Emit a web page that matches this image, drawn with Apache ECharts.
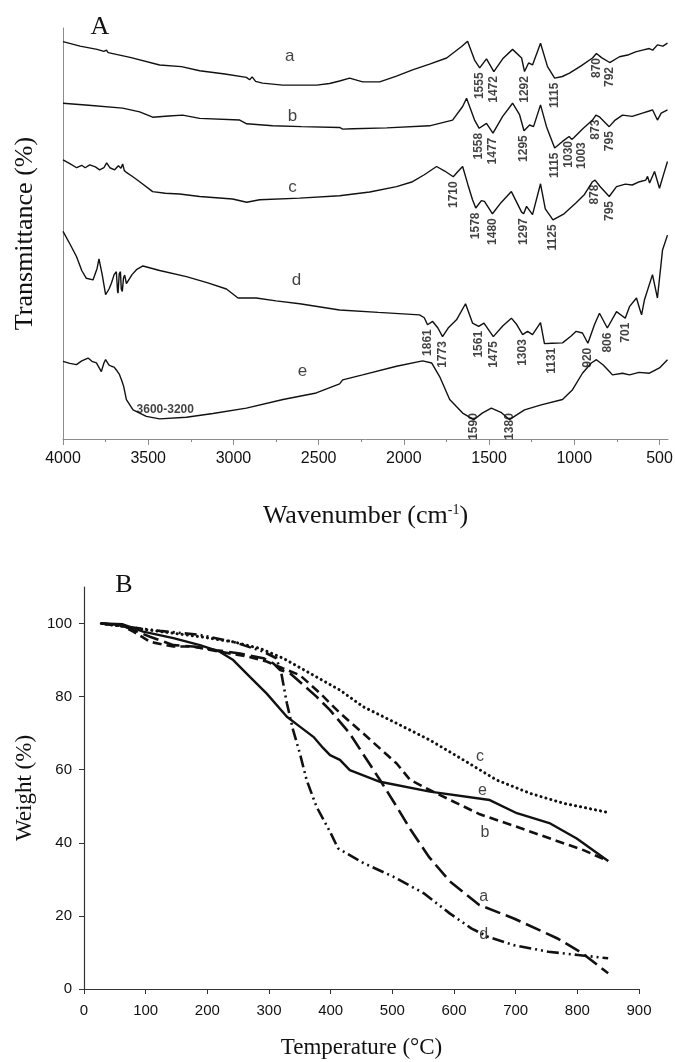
<!DOCTYPE html>
<html>
<head>
<meta charset="utf-8">
<script src="https://cdn.jsdelivr.net/npm/echarts@6/dist/echarts.min.js"></script>
<style>
  html, body { margin: 0; padding: 0; background: #fff; }
  #chart { width: 675px; height: 1062px; }
</style>
</head>
<body>
<div id="chart"></div>
<script>
// ---------- Panel A: FTIR spectra, [wavenumber (cm-1), transmittance (offset, arb. %)] ----------
const specA = [[4000,96.7],[3900,95.6],[3800,94.8],[3760,94.3],[3745,94.6],[3735,94.0],[3600,92.8],[3433,91.0],[3305,90.6],[3198,89.6],[3050,88.8],[2924,88.0],[2905,87.4],[2890,88.1],[2870,87.0],[2829,86.6],[2711,86.1],[2512,86.1],[2436,86.5],[2377,87.1],[2318,87.8],[2242,86.9],[2142,86.9],[2043,88.3],[1949,89.8],[1849,91.2],[1749,92.7],[1661,95.5],[1626,96.8],[1585,92.2],[1555,90.3],[1515,92.5],[1472,89.4],[1420,92.5],[1362,94.8],[1309,92.7],[1292,89.4],[1268,91.5],[1245,91.0],[1198,96.3],[1157,90.6],[1115,87.8],[1070,88.2],[1028,89.0],[960,90.8],[893,92.7],[870,93.8],[840,92.8],[792,91.6],[735,93.0],[680,93.5],[640,94.2],[600,94.6],[560,95.0],[540,94.6],[512,95.9],[480,95.6],[453,96.3]];
const specB = [[4000,81.7],[3850,81.2],[3650,80.5],[3550,79.6],[3474,78.3],[3380,78.6],[3298,78.8],[3198,78.0],[2963,77.6],[2922,76.7],[2770,76.2],[2600,76.0],[2377,75.8],[2359,75.4],[2300,75.5],[2100,75.7],[1849,76.2],[1714,77.6],[1655,80.9],[1632,82.9],[1585,77.6],[1558,75.6],[1515,76.8],[1477,74.4],[1420,78.5],[1362,81.7],[1321,78.9],[1295,75.0],[1262,76.4],[1239,76.0],[1198,81.3],[1163,76.0],[1115,70.8],[1069,72.4],[1030,73.6],[1015,72.9],[1003,73.3],[950,75.5],[893,77.6],[873,78.8],[850,78.3],[795,76.0],[760,77.6],[717,78.8],[660,78.5],[600,79.3],[560,79.8],[541,80.1],[512,77.6],[490,79.3],[453,80.1]];
const specC = [[4000,67.9],[3960,67.0],[3920,66.0],[3890,66.6],[3870,66.0],[3843,66.7],[3810,66.2],[3785,65.5],[3760,66.0],[3744,67.2],[3725,66.0],[3697,65.5],[3675,66.5],[3660,65.9],[3650,66.9],[3640,65.3],[3626,64.8],[3590,63.8],[3550,62.6],[3474,60.2],[3400,59.8],[3316,59.6],[3198,59.0],[3005,58.4],[2922,57.6],[2846,58.2],[2611,58.6],[2377,59.2],[2200,60.1],[2043,61.4],[1949,62.6],[1880,64.3],[1808,66.3],[1760,65.2],[1710,63.8],[1680,65.2],[1655,66.3],[1625,62.0],[1597,58.2],[1578,56.2],[1545,58.0],[1527,57.8],[1480,54.8],[1430,57.5],[1369,60.2],[1309,55.2],[1297,54.8],[1280,56.6],[1245,54.6],[1198,62.1],[1170,56.0],[1125,53.3],[1060,54.8],[989,57.5],[940,59.5],[893,62.6],[878,63.0],[850,61.5],[795,59.0],[752,61.4],[700,62.0],[660,61.8],[617,62.6],[580,63.0],[570,63.9],[558,62.3],[529,65.1],[500,61.0],[475,64.5],[453,67.5]];
const specD = [[4000,50.5],[3960,47.5],[3921,44.4],[3890,41.0],[3863,39.1],[3824,38.7],[3800,41.5],[3789,43.8],[3770,40.0],[3750,35.1],[3730,36.5],[3716,37.9],[3700,40.0],[3687,40.7],[3680,36.0],[3677,35.5],[3670,40.2],[3663,40.7],[3658,36.5],[3652,35.9],[3645,39.2],[3638,39.9],[3628,37.8],[3619,37.5],[3595,40.0],[3569,41.2],[3531,42.1],[3433,41.0],[3276,39.5],[3150,38.0],[3041,36.5],[2973,34.3],[2866,34.3],[2750,33.6],[2611,32.9],[2377,31.4],[2150,30.8],[1908,30.2],[1880,29.5],[1861,27.8],[1831,28.6],[1800,27.0],[1773,24.9],[1740,27.0],[1691,29.0],[1638,32.9],[1597,28.2],[1561,27.4],[1530,28.2],[1475,24.9],[1420,27.5],[1369,29.4],[1340,28.0],[1303,25.4],[1274,26.2],[1245,25.4],[1198,28.3],[1175,23.2],[1131,23.3],[1069,23.4],[1020,25.0],[989,26.2],[952,25.8],[920,23.3],[880,28.0],[852,30.6],[806,27.0],[752,31.0],[720,30.0],[701,29.4],[676,32.2],[635,34.3],[615,31.5],[605,30.2],[588,33.9],[541,40.0],[512,34.3],[482,46.0],[453,49.6]];
const specE = [[4000,18.9],[3960,18.4],[3921,18.1],[3890,19.0],[3853,19.7],[3830,18.9],[3804,18.5],[3790,17.5],[3775,16.4],[3760,18.5],[3750,19.3],[3730,18.0],[3716,17.7],[3700,17.5],[3687,16.8],[3670,15.8],[3657,14.4],[3644,12.8],[3628,9.6],[3589,7.1],[3511,5.5],[3433,4.9],[3276,5.3],[3120,6.2],[2924,7.5],[2709,9.6],[2514,11.2],[2377,13.4],[2359,14.4],[2242,15.6],[2043,17.7],[1890,19.0],[1837,18.5],[1790,15.2],[1731,9.6],[1655,6.3],[1590,4.7],[1540,6.3],[1487,7.5],[1430,6.5],[1380,4.7],[1340,5.8],[1292,7.1],[1194,8.3],[1069,9.6],[1010,12.0],[952,16.0],[900,18.5],[870,19.3],[830,18.0],[794,16.4],[776,15.6],[717,16.0],[676,15.6],[620,16.2],[559,16.0],[500,17.3],[453,19.3]];

// band assignments written under each spectrum
const peaksA = [1555, 1472, 1292, 1115, 870, 792];
const peaksB = [1558, 1477, 1295, 1115, 1030, 1003, 873, 795];
const peaksC = [1710, 1578, 1480, 1297, 1125, 878, 795];
const peaksD = [1861, 1773, 1561, 1475, 1303, 1131, 920, 806, 701];
const peaksE = [1590, 1380];
const bandE = { from: 3600, to: 3200 };

// curve names [name, wavenumber, transmittance]
const tagsA = [['a', 2670, 93.0], ['b', 2653, 78.4], ['c', 2653, 61.3], ['d', 2630, 38.7], ['e', 2595, 16.4]];

const wnTicks = [4000, 3500, 3000, 2500, 2000, 1500, 1000, 500];
const wnMinor = [3750, 3250, 2750, 2250, 1750, 1250, 750];

// ---------- Panel B: TGA, [temperature (°C), weight (%)] ----------
const tgaA = [[28,100],[60,99.6],[80,98.2],[107,96.4],[145,94.1],[177,93.7],[215,92.7],[253,91.8],[291,90.5],[307,89.1],[318,87.3],[334,86.4],[377,80.0],[399,76.3],[431,69.9],[480,57.2],[507,49.9],[530,43.5],[560,36.0],[593,29.5],[641,23.0],[697,19.3],[767,13.9],[808,9.8],[850,4.3]];
const tgaB = [[28,100],[60,99.5],[80,97.8],[107,95.0],[145,93.7],[177,93.7],[220,92.3],[264,91.0],[296,89.6],[323,87.7],[350,85.9],[383,80.9],[415,75.5],[453,69.9],[507,61.7],[529,57.2],[572,53.5],[642,47.8],[700,44.5],[767,40.5],[810,38.0],[850,35.0]];
const tgaC = [[28,100],[107,98.2],[188,96.4],[242,95.0],[285,93.2],[323,90.5],[377,85.4],[415,81.8],[453,77.2],[507,72.7],[561,68.1],[615,62.7],[669,57.2],[724,53.5],[778,50.8],[853,48.2]];
const tgaD = [[28,100],[123,98.0],[188,96.9],[242,95.0],[291,92.3],[312,90.5],[320,86.4],[329,78.2],[339,70.9],[350,64.5],[361,57.2],[377,49.9],[399,43.0],[412,38.5],[454,34.4],[502,30.7],[551,26.2],[593,20.7],[628,16.6],[655,14.3],[697,12.0],[753,10.2],[801,9.3],[850,8.4]];
const tgaE = [[28,100],[63,99.8],[96,97.8],[145,96.0],[188,94.1],[220,92.3],[242,90.0],[269,85.4],[296,80.9],[329,74.5],[350,71.8],[372,69.0],[388,65.9],[399,64.0],[415,62.7],[431,59.9],[480,56.7],[561,54.0],[658,51.7],[702,48.1],[756,45.3],[799,41.2],[850,35.0]];

const tagsB = [['c', 642, 63.5], ['e', 646, 54.2], ['b', 650, 42.7], ['a', 648, 25.3], ['d', 648, 14.8]];
const tempTicks = [0, 100, 200, 300, 400, 500, 600, 700, 800, 900];
const weightTicks = [0, 20, 40, 60, 80, 100];

// ---------- layout ----------
const SANS = '"Liberation Sans", Arial, sans-serif';
const SERIF = '"Liberation Serif", "Times New Roman", serif';
const INK = '#111';
const gridA = { left: 63, right: 7, top: 28, height: 411, outerBoundsMode: 'none', containLabel: false };
const gridB = { left: 84, right: 36, top: 587, height: 402, outerBoundsMode: 'none', containLabel: false };
const WN_MIN = 450, WN_MAX = 4000;
const pxPerWn = (675 - gridA.left - gridA.right) / (WN_MAX - WN_MIN);
const plain = v => String(v);

function valueAt(spec, wn) {
  for (let i = 0; i < spec.length - 1; i++) {
    const [x0, y0] = spec[i], [x1, y1] = spec[i + 1];
    if (wn <= x0 && wn >= x1) return y0 + (y1 - y0) * (wn - x0) / (x1 - x0);
  }
  return spec[spec.length - 1][1];
}

// band labels hang under the curve; neighbours closer than one label width are nudged apart
function bandSeries(spec, peaks, gap) {
  const minSep = 13;
  const sorted = peaks.slice().sort((p, q) => q - p);
  let lastX = -Infinity;
  const data = sorted.map(wn => {
    const x = (WN_MAX - wn) * pxPerWn;
    const placed = Math.max(x, lastX + minSep);
    lastX = placed;
    // anchor relative to the 1px symbol box: x shift, then gap below the curve
    return {
      value: [wn, valueAt(spec, wn)], name: String(wn),
      label: { position: [0.5 + (placed - x), 1 + gap] }
    };
  });
  return {
    type: 'scatter', xAxisIndex: 0, yAxisIndex: 0, symbolSize: 1,
    itemStyle: { color: 'rgba(0,0,0,0)' }, silent: true, z: 5,
    data,
    label: {
      show: true, rotate: 90, align: 'right', verticalAlign: 'middle',
      formatter: p => p.name, fontFamily: SANS, fontSize: 12, fontWeight: 'bold', color: INK
    }
  };
}

function spectrumSeries(name, spec) {
  return {
    name, type: 'line', xAxisIndex: 0, yAxisIndex: 0, data: spec, showSymbol: false,
    symbol: 'none', lineStyle: { color: INK, width: 1.4 }, silent: true
  };
}

function tgaSeries(name, data, dash, width, cap) {
  return {
    name, type: 'line', xAxisIndex: 2, yAxisIndex: 1, data, symbol: 'none', silent: true,
    lineStyle: { color: INK, width, type: dash, cap: cap || 'butt' }
  };
}

function tagSeries(tags, xi, yi, size) {
  return {
    type: 'scatter', xAxisIndex: xi, yAxisIndex: yi, symbolSize: 1, silent: true,
    itemStyle: { color: 'rgba(0,0,0,0)' },
    data: tags.map(t => ({ name: t[0], value: [t[1], t[2]] })),
    label: { show: true, position: 'inside', formatter: p => p.name,
             fontFamily: SANS, fontSize: size, color: INK }
  };
}

const chart = echarts.init(document.getElementById('chart'), null, { renderer: 'canvas' });

chart.setOption({
  animation: false,
  backgroundColor: '#fff',
  textStyle: { fontFamily: SANS },
  grid: [gridA, gridB],
  xAxis: [
    {
      gridIndex: 0, type: 'value', min: WN_MIN, max: WN_MAX, inverse: true, position: 'bottom',
      axisLine: { onZero: false, lineStyle: { color: '#8c8c8c', width: 1 } },
      axisTick: { customValues: wnTicks, length: 6, lineStyle: { color: '#8c8c8c' } },
      axisLabel: { customValues: wnTicks, formatter: plain, fontSize: 16, color: INK, margin: 12, fontFamily: SANS },
      splitLine: { show: false },
      name: '{t|Wavenumber (cm}{s|-1}{t|)}', nameLocation: 'middle', nameGap: 64,
      nameTextStyle: {
        rich: {
          t: { fontFamily: SERIF, fontSize: 26, color: INK, verticalAlign: 'bottom' },
          s: { fontFamily: SERIF, fontSize: 14, color: INK, verticalAlign: 'top' }
        }
      }
    },
    {
      gridIndex: 0, type: 'value', min: WN_MIN, max: WN_MAX, inverse: true, position: 'bottom',
      axisLine: { show: false, onZero: false },
      axisTick: { customValues: wnMinor, length: 3, lineStyle: { color: '#8c8c8c' } },
      axisLabel: { show: false }, splitLine: { show: false }
    },
    {
      gridIndex: 1, type: 'value', min: 0, max: 900, interval: 100, position: 'bottom',
      axisLine: { onZero: false, lineStyle: { color: '#333', width: 1.2 } },
      axisTick: { customValues: tempTicks, length: 5, lineStyle: { color: '#333' } },
      axisLabel: { customValues: tempTicks, formatter: plain, fontSize: 15, color: INK, margin: 14, fontFamily: SANS },
      splitLine: { show: false },
      name: 'Temperature (°C)', nameLocation: 'middle', nameGap: 47,
      nameTextStyle: { fontFamily: SERIF, fontSize: 23, color: INK }
    }
  ],
  yAxis: [
    {
      gridIndex: 0, type: 'value', min: 0, max: 100,
      axisLine: { show: true, onZero: false, lineStyle: { color: '#8c8c8c', width: 1 } },
      axisTick: { show: false }, axisLabel: { show: false }, splitLine: { show: false },
      name: 'Transmittance (%)', nameLocation: 'middle', nameRotate: 90, nameGap: 25,
      nameTextStyle: { fontFamily: SERIF, fontSize: 26, color: INK }
    },
    {
      gridIndex: 1, type: 'value', min: 0, max: 110,
      axisLine: { show: true, onZero: false, lineStyle: { color: '#333', width: 1.2 } },
      axisTick: { customValues: weightTicks, length: 5, lineStyle: { color: '#333' } },
      axisLabel: { customValues: weightTicks, formatter: plain, fontSize: 15, color: INK, margin: 12, fontFamily: SANS },
      splitLine: { show: false },
      name: 'Weight (%)', nameLocation: 'middle', nameRotate: 90, nameGap: 41,
      nameTextStyle: { fontFamily: SERIF, fontSize: 23, color: INK }
    }
  ],
  graphic: [
    { type: 'text', x: 100, y: 27, style: { text: 'A', font: '26px ' + SERIF, fill: INK, align: 'center', verticalAlign: 'middle' } },
    { type: 'text', x: 124, y: 585, style: { text: 'B', font: '26px ' + SERIF, fill: INK, align: 'center', verticalAlign: 'middle' } }
  ],
  series: [
    spectrumSeries('a', specA),
    spectrumSeries('b', specB),
    spectrumSeries('c', specC),
    spectrumSeries('d', specD),
    spectrumSeries('e', specE),
    bandSeries(specA, peaksA, 4),
    bandSeries(specB, peaksB, 4),
    bandSeries(specC, peaksC, 4),
    bandSeries(specD, peaksD, 4),
    bandSeries(specE, peaksE, -7),
    {
      type: 'scatter', xAxisIndex: 0, yAxisIndex: 0, symbolSize: 1, silent: true,
      itemStyle: { color: 'rgba(0,0,0,0)' },
      data: [{ name: bandE.from + '-' + bandE.to,
               value: [(bandE.from + bandE.to) / 2, valueAt(specE, (bandE.from + bandE.to) / 2)] }],
      label: { show: true, position: 'top', distance: 2, formatter: p => p.name,
               fontFamily: SANS, fontSize: 12, fontWeight: 'bold', color: INK }
    },
    tagSeries(tagsA, 0, 0, 17),
    tgaSeries('a', tgaA, [16, 6], 2.6),
    tgaSeries('b', tgaB, [9, 5], 2.6),
    tgaSeries('c', tgaC, [0.1, 5], 3, 'round'),
    tgaSeries('d', tgaD, [12, 4, 2, 4, 2, 4], 2.6),
    tgaSeries('e', tgaE, 'solid', 2.4),
    tagSeries(tagsB, 2, 1, 16)
  ]
});
</script>
</body>
</html>
